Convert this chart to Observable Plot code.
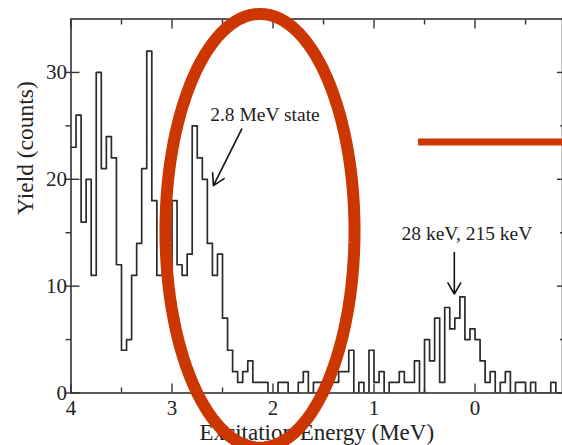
<!DOCTYPE html>
<html><head><meta charset="utf-8">
<script src="https://cdn.jsdelivr.net/npm/d3@7"></script>
<script src="https://cdn.jsdelivr.net/npm/@observablehq/plot@0.6"></script>
<style>html,body{margin:0;padding:0;background:#fff;overflow:hidden}svg{display:block}</style>
</head><body><div id="chart"></div>
<script>
// Histogram bins (MeV): left edge of first bin and bin width
const binStart = 4.0;
const binWidth = 0.05;
// Counts per bin (from 4.00 MeV downward)
const counts = [
  23, 26, 16, 20, 11, 30, 21, 24, 22, 12,
   4,  5, 11, 14, 21, 32, 18, 11, 11, 11,
  18, 12, 11, 13, 25, 22, 20, 14, 11, 13,
   7,  4,  2,  1,  2,  3,  1,  1,  1,  0,
   0,  1,  1,  0,  0,  1,  2,  0,  1,  1,
   1,  1,  1,  2,  2,  4,  0,  1,  0,  4,
   1,  2,  0,  1,  1,  2,  1,  1,  3,  0,
   5,  3,  7,  1,  8,  6,  7,  9,  5,  6,
   5,  3,  1,  2,  0,  1,  2,  0,  1,  1,
   0,  1,  0,  0,  0,  1,  0,  0
];
const xDomain = [4, -0.866];
const yDomain = [0, 35];
const xTicks = [4, 3, 2, 1, 0];
const xMinorTicks = [3.5, 2.5, 1.5, 0.5, -0.5];
const yTicks = [0, 10, 20, 30];
const yMinorTicks = [5, 15, 25];
const xLabel = "Excitation Energy (MeV)";
const yLabel = "Yield (counts)";
const annotationText = ["2.8 MeV state", "28 keV, 215 keV"];
const annotationX = [2.08, 0.08];
const annotationY = [26.0, 14.9];
const arrowX1 = [2.31, 0.205];
const arrowY1 = [24.7, 13.15];
const arrowX2 = [2.59, 0.205];
const arrowY2 = [19.4, 9.26];
// Red highlight drawn over the figure (ellipse + bar), in data units
const ellipseCenter = [2.129, 15.18];
const ellipseRadii = [0.936, 20.3];
const barY = 23.5;
const barX = [0.559, -0.87];

const red = "#cc3600";
const ink = "#222";
const font = "'Liberation Serif','Times New Roman',serif";

// Build tables for the library
const hist = counts.map((c, i) => ({e: binStart - i * binWidth, c}));
hist.push({e: binStart - counts.length * binWidth, c: counts[counts.length - 1]});
const annotations = annotationText.map((t, i) => ({t, x: annotationX[i], y: annotationY[i]}));
const arrows = arrowX1.map((x1, i) => ({x1, y1: arrowY1[i], x2: arrowX2[i], y2: arrowY2[i]}));
const ellipse = d3.range(0, 361, 3).map(a => ({
  x: ellipseCenter[0] + ellipseRadii[0] * Math.cos(a * Math.PI / 180),
  y: ellipseCenter[1] + ellipseRadii[1] * Math.sin(a * Math.PI / 180)
}));

const chart = Plot.plot({
  width: 562,
  height: 445,
  marginLeft: 70.5,
  marginRight: 0,
  marginTop: 18.5,
  marginBottom: 52.5,
  x: {domain: xDomain},
  y: {domain: yDomain},
  style: {fontFamily: font, fontSize: "20px", color: ink, background: "#fff"},
  marks: [
    Plot.frame({stroke: "#333", strokeWidth: 1.6}),
    Plot.lineY(hist, {x: "e", y: "c", curve: "step-after", stroke: "#2a2a2a", strokeWidth: 1.7, clip: true}),
    // bottom axis ticks (inward) and labels
    Plot.axisX(xTicks, {anchor: "bottom", tickSize: -9, tickFormat: () => "", label: null, stroke: "#333", strokeWidth: 1.4}),
    Plot.axisX(xMinorTicks, {anchor: "bottom", tickSize: -5, tickFormat: () => "", label: null, stroke: "#333", strokeWidth: 1.4}),
    Plot.axisX(xTicks, {anchor: "bottom", tickSize: 0, tickPadding: 7, label: null, fontSize: 21}),
    // top axis ticks (inward)
    Plot.axisX(xTicks, {anchor: "top", tickSize: -9, tickFormat: () => "", label: null, stroke: "#333", strokeWidth: 1.4}),
    Plot.axisX(xMinorTicks, {anchor: "top", tickSize: -5, tickFormat: () => "", label: null, stroke: "#333", strokeWidth: 1.4}),
    // left axis ticks and labels
    Plot.axisY(yTicks, {anchor: "left", tickSize: -9, tickFormat: () => "", label: null, stroke: "#333", strokeWidth: 1.4}),
    Plot.axisY(yTicks, {anchor: "left", tickSize: 5, tickFormat: () => "", label: null, stroke: "#333", strokeWidth: 1.4}),
    Plot.axisY(yMinorTicks, {anchor: "left", tickSize: 5, tickFormat: () => "", label: null, stroke: "#333", strokeWidth: 1.4}),
    Plot.axisY(yTicks, {anchor: "left", tickSize: 0, tickPadding: 4, label: null, fontSize: 21}),
    // right axis ticks (inward)
    Plot.axisY(yTicks, {anchor: "right", tickSize: -6, tickFormat: () => "", label: null, stroke: "#333", strokeWidth: 1.4}),
    Plot.axisY(yMinorTicks, {anchor: "right", tickSize: -3, tickFormat: () => "", label: null, stroke: "#333", strokeWidth: 1.4}),
    // axis titles
    Plot.text([xLabel], {text: d => d, frameAnchor: "bottom", dy: 40, lineAnchor: "middle", fontSize: 23, fill: ink}),
    Plot.text([yLabel], {text: d => d, frameAnchor: "left", rotate: -90, dx: -46, dy: 9, lineAnchor: "middle", fontSize: 23.5, fill: ink}),
    // annotations
    Plot.text(annotations, {x: "x", y: "y", text: "t", fontSize: 19.5, fill: ink, lineAnchor: "middle"}),
    Plot.arrow(arrows, {x1: "x1", y1: "y1", x2: "x2", y2: "y2", stroke: "#111", strokeWidth: 1.6, headLength: 12}),
    // red highlight overlay
    Plot.line(ellipse, {x: "x", y: "y", stroke: red, strokeWidth: 12, curve: "linear-closed"}),
    Plot.ruleY([barY], {x1: barX[0], x2: barX[1], stroke: red, strokeWidth: 7})
  ]
});
document.getElementById("chart").append(chart);
</script>
</body></html>
